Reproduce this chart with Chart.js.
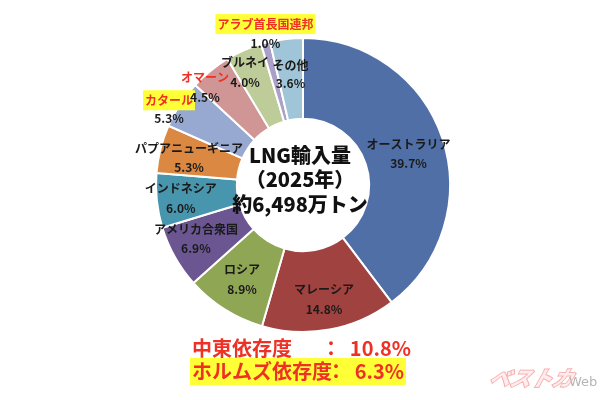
<!DOCTYPE html>
<html lang="ja">
<head>
<meta charset="utf-8">
<title>LNG輸入量 (2025年)</title>
<script src="https://cdn.jsdelivr.net/npm/chart.js@4"></script>
<style>
    html, body { margin: 0; padding: 0; background: #fff; }
    #wrap { width: 600px; height: 400px; position: relative; }
</style>
</head>
<body>
<div id="wrap"><canvas id="lngChart" width="600" height="400"></canvas></div>
<script>
// データ
const countries = ['オーストラリア', 'マレーシア', 'ロシア', 'アメリカ合衆国', 'インドネシア',
    'パプアニューギニア', 'カタール', 'オマーン', 'ブルネイ', 'アラブ首長国連邦', 'その他'];
const shares = [39.7, 14.8, 8.9, 6.9, 6.0, 5.3, 5.3, 4.5, 4.0, 1.0, 3.6];
const centerLines = ['LNG輸入量', '（2025年）', '約6,498万トン'];
const middleEastShare = '10.8%';
const hormuzShare = '6.3%';

// 見た目
const sliceColors = ['#4F6FA6', '#A0423F', '#8FA655', '#6B5691', '#4896AD',
    '#DA8842', '#97A9D0', '#CF9695', '#BDCC98', '#AAA0C8', '#A0C5D8'];
const highlighted = [false, false, false, false, false, false, true, true, false, true, false];
const yellowBox = [false, false, false, false, false, false, true, false, false, true, false];
// ラベル位置 (外径に対する比率, 微調整 px)
const labelRadius = [0.75, 0.79, 0.777, 0.82, 0.85, 0.80, 1.05, 0.94, 0.86, 1.03, 0.757];
const labelNudge = [[1, 4], [0, 0], [0, -2], [-2, -5], [2, 0], [0, 2], [-5, 9], [-11, 10], [-7, 3], [1, -5], [0, 0]];
const labelGap = [18.5, 20, 20, 19, 19.5, 19, 18, 20, 20, 19, 18];

const RED = '#EE3124';
const YELLOW = '#FFFF38';
const FONT = '"Noto Sans CJK JP", "Noto Sans", sans-serif';

const sliceLabels = {
    id: 'sliceLabels',
    afterDatasetsDraw(chart) {
        const ctx = chart.ctx;
        const arcs = chart.getDatasetMeta(0).data;
        ctx.save();
        ctx.textAlign = 'center';
        ctx.textBaseline = 'middle';
        arcs.forEach((arc, i) => {
            const p = arc.getProps(['x', 'y', 'startAngle', 'endAngle', 'outerRadius'], true);
            const mid = (p.startAngle + p.endAngle) / 2;
            const r = p.outerRadius * labelRadius[i];
            const cx = p.x + Math.cos(mid) * r + labelNudge[i][0];
            const cy = p.y + Math.sin(mid) * r + labelNudge[i][1];
            const nameY = cy - labelGap[i] / 2;
            const pctY = cy + labelGap[i] / 2;

            ctx.font = 'bold 12px ' + FONT;
            if (yellowBox[i]) {
                const w = ctx.measureText(countries[i]).width;
                ctx.fillStyle = YELLOW;
                ctx.fillRect(cx - w / 2 - 2, nameY - 10, w + 4, 20);
            }
            ctx.fillStyle = highlighted[i] ? RED : '#1a1a1a';
            ctx.fillText(countries[i], cx, nameY);
            ctx.fillStyle = '#1a1a1a';
            ctx.fillText(shares[i].toFixed(1) + '%', cx, pctY);
        });

        // 中央の文字
        const c = arcs[0];
        ctx.fillStyle = '#111';
        ctx.font = '900 20px ' + FONT;
        centerLines.forEach((t, k) => {
            ctx.fillText(t, c.x - 3, c.y - 30 + k * 24.5);
        });

        // 下部の依存度
        ctx.fillStyle = YELLOW;
        ctx.fillRect(190, 358, 216, 27);
        ctx.font = 'bold 20px ' + FONT;
        ctx.fillStyle = RED;
        ctx.textAlign = 'left';
        ctx.fillText('中東依存度', 192, 348);
        ctx.fillText('ホルムズ依存度', 192, 371);
        ctx.textAlign = 'center';
        ctx.fillText('：', 331, 348);
        ctx.fillText('：', 336, 371);
        ctx.textAlign = 'right';
        ctx.fillText(middleEastShare, 411, 348);
        ctx.fillText(hormuzShare, 404, 371);

        // 透かし
        ctx.save();
        ctx.translate(490, 378);
        ctx.transform(1, 0, -0.3, 1, 0, 0);
        ctx.font = 'bold italic 21px ' + FONT;
        ctx.textAlign = 'left';
        ctx.lineWidth = 2;
        ctx.strokeStyle = '#F6B0B0';
        ctx.strokeText('ベストカ', 0, 0);
        ctx.fillStyle = '#FFEDED';
        ctx.fillText('ベストカ', 0, 0);
        ctx.restore();
        ctx.font = '13px "DejaVu Sans", sans-serif';
        ctx.fillStyle = '#B5B5B5';
        ctx.textAlign = 'left';
        ctx.fillText('Web', 569, 383);
        ctx.restore();
    }
};

document.addEventListener('DOMContentLoaded', () => {
    const ctx = document.getElementById('lngChart').getContext('2d');
    new Chart(ctx, {
        type: 'doughnut',
        data: {
            labels: countries,
            datasets: [{
                data: shares,
                backgroundColor: sliceColors,
                borderColor: '#fff',
                borderWidth: 2
            }]
        },
        options: {
            responsive: false,
            animation: false,
            cutout: '45%',
            layout: { padding: { top: 37, bottom: 67, left: 6, right: 0 } },
            plugins: {
                legend: { display: false },
                tooltip: { enabled: false }
            }
        },
        plugins: [sliceLabels]
    });
});
</script>
</body>
</html>
